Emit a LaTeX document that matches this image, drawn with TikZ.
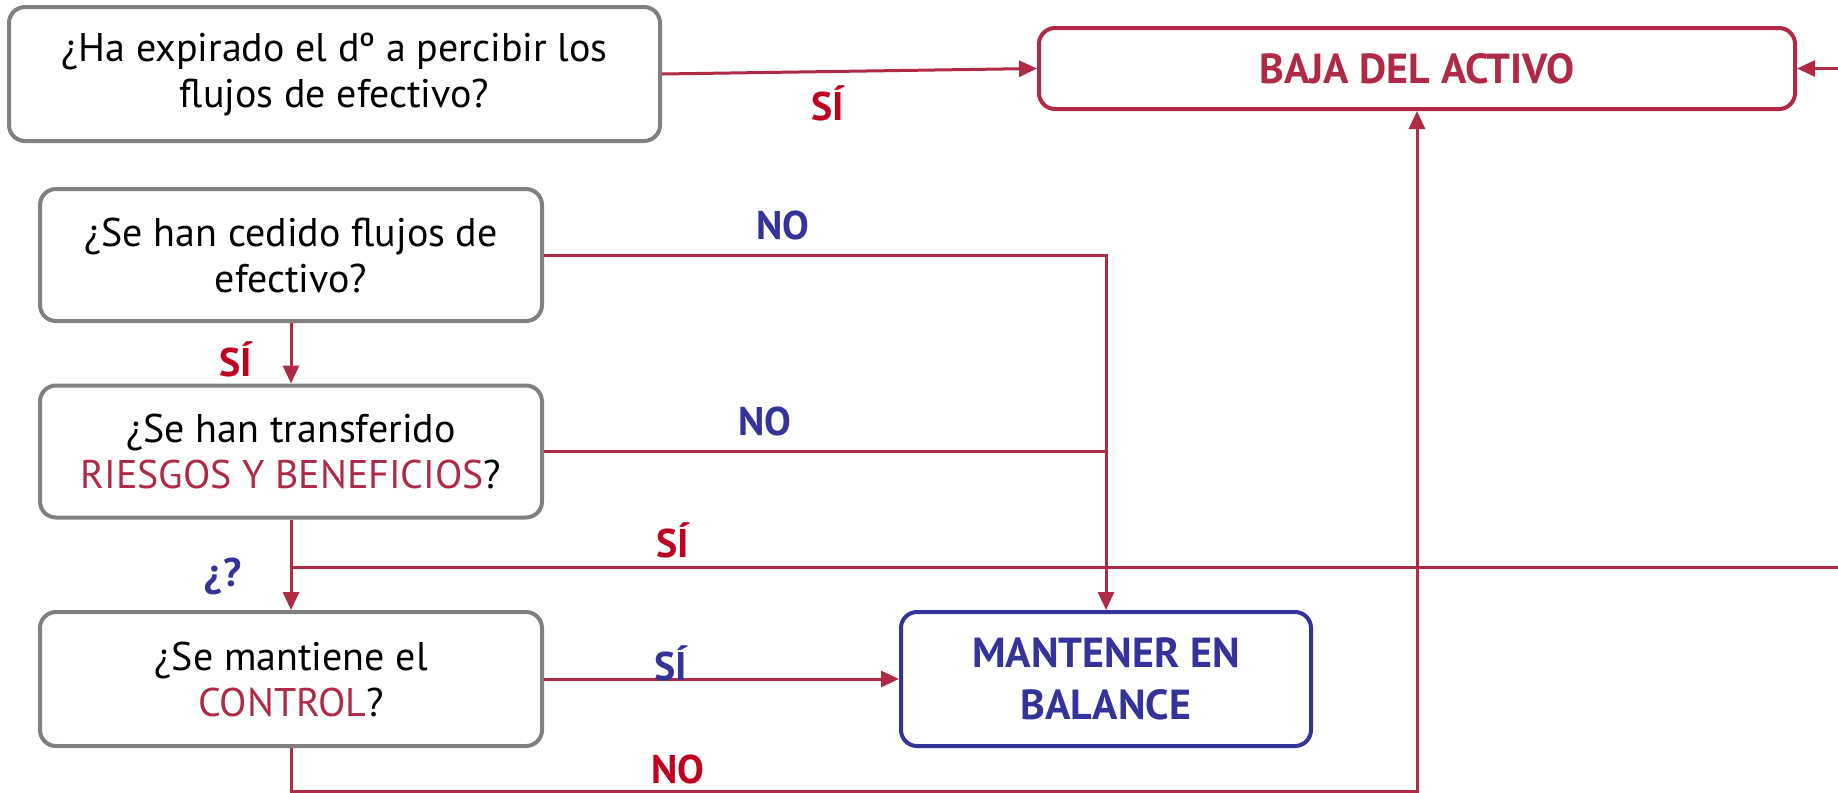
\documentclass[tikz,border=0pt]{standalone}
\usepackage{fontspec}
\setmainfont{PT Sans}
\usetikzlibrary{arrows.meta}
\definecolor{crimson}{HTML}{AF2A45}
\definecolor{redlbl}{HTML}{C00020}
\definecolor{navy}{HTML}{333399}
\definecolor{boxgray}{HTML}{808080}

\begin{document}
\begin{tikzpicture}[x=0.5pt, y=-0.5pt]
            \tikzstyle{question} = [draw=boxgray, line width=2pt, rounded corners=8pt, align=center, inner sep=0pt, minimum width=251pt, minimum height=66pt, font=\fontsize{20}{23}\selectfont]
            \tikzstyle{result} = [line width=2pt, rounded corners=8pt, align=center, inner sep=0pt, font=\bfseries\fontsize{21}{26}\selectfont]
            \tikzstyle{flow} = [crimson, line width=1.5pt]
            \tikzstyle{tip} = [-{Triangle[length=9pt, width=8pt]}]
            \tikzstyle{answer} = [font=\bfseries\fontsize{20}{22}\selectfont]
            \useasboundingbox (0, 0) rectangle (1838, 793);
            % questions
            \node[question, minimum width=325.5pt, minimum height=67pt] (expira) at (334.5, 74) {¿Ha expirado el dº a percibir los\\flujos de efectivo?};
            \node[question] (cedido) at (291, 255) {¿Se han cedido flujos de\\efectivo?};
            \node[question] (riesgos) at (291, 451.5) {¿Se han transferido\\{\color{crimson}RIESGOS Y BENEFICIOS}?};
            \node[question, minimum height=67pt] (control) at (291, 679) {¿Se mantiene el\\{\color{crimson}CONTROL}?};
            % results
            \node[result, draw=crimson, text=crimson, minimum width=378pt, minimum height=40.5pt] (baja) at (1417, 68.5) {BAJA DEL ACTIVO};
            \node[result, draw=navy, text=navy, minimum width=205pt, minimum height=67pt] (balance) at (1106, 679) {MANTENER EN\\BALANCE};
            % connectors
            \coordinate (split) at (291, 567);
            \coordinate (outright) at (1838, 567);
            \coordinate (inright) at (1838, 68.5);
            \coordinate (low) at (291, 791.5);
            \draw[flow, tip] (expira.east) -- (baja.west);
            \draw[flow, tip] (inright) -- (baja.east);
            \draw[flow, tip] (cedido.east) -| (balance.north);
            \draw[flow] (riesgos.east) -- (riesgos.east -| balance.north);
            \draw[flow, tip] (cedido.south) -- (riesgos.north);
            \draw[flow, tip] (riesgos.south) -- (control.north);
            \draw[flow] (split) -- (outright);
            \draw[flow, tip] (control.east) -- (balance.west);
            \draw[flow, tip] (control.south) -- (low) -| (baja.south);
            % labels
            \node[answer, redlbl] (siA) at (828, 103) {SÍ};
            \node[answer, navy] (noA) at (783, 225) {NO};
            \node[answer, redlbl] (siB) at (236, 359) {SÍ};
            \node[answer, navy] (noB) at (765, 421) {NO};
            \node[answer, redlbl] (siC) at (673, 540) {SÍ};
            \node[answer, navy] (duda) at (223, 576) {¿?};
            \node[answer, navy] (siD) at (671, 663) {SÍ};
            \node[answer, redlbl] (noC) at (678, 769) {NO};
        \end{tikzpicture}
\end{document}
